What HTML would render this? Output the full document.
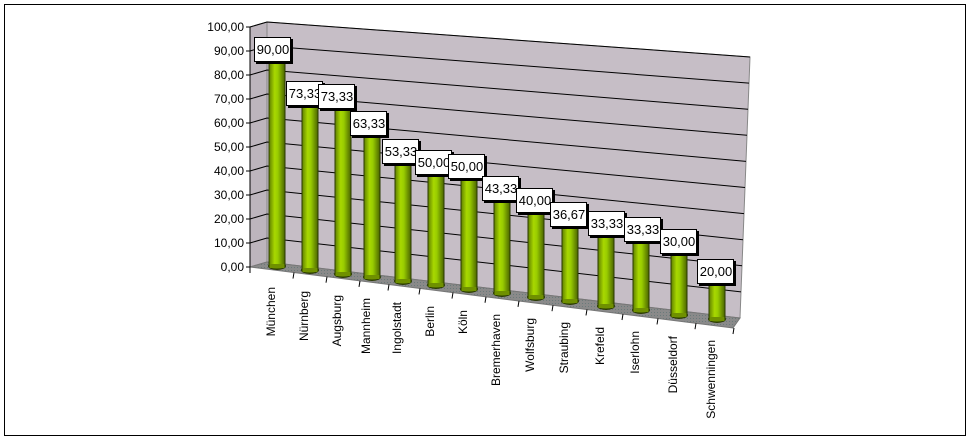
<!DOCTYPE html>
<html><head><meta charset="utf-8"><style>
html,body{margin:0;padding:0;background:#fff;}
svg{display:block;font-family:"Liberation Sans",Arial,sans-serif;}
</style></head><body>
<svg id="s" width="971" height="441" xmlns="http://www.w3.org/2000/svg">
<defs>
<linearGradient id="bargrad" x1="0" x2="1" y1="0" y2="0">
<stop offset="0" stop-color="#5f7f00"/><stop offset="0.35" stop-color="#a8d800"/><stop offset="0.55" stop-color="#99cc00"/><stop offset="1" stop-color="#4a6400"/>
</linearGradient>
<pattern id="dots" width="3" height="3" patternUnits="userSpaceOnUse"><rect width="3" height="3" fill="#8a8a8a"/><rect width="1" height="1" fill="#6a7a7a"/></pattern>
</defs>
<rect x="4.5" y="4.5" width="961" height="431" fill="#fff" stroke="#000"/>
<polygon points="250,27 267,22 267,262 250,267" fill="#bdb5bd" stroke="#888"/>
<polygon points="267,22 750,57 740,318 267,262" fill="#c6bec6" stroke="#888"/>
<polygon points="250,267 267,262 740,318 733,328" fill="url(#dots)" stroke="#777"/>
<g id="grid" stroke="#000" stroke-width="1" fill="none"></g>
<g id="ax" font-size="12" text-anchor="end" fill="#000"></g>
<g id="bars"></g>
<g id="cats" font-size="12" fill="#000"></g>
</svg>
<script>
(function(){
var NS="http://www.w3.org/2000/svg";
function el(p,t,a,txt){var e=document.createElementNS(NS,t);for(var k in a)e.setAttribute(k,a[k]);if(txt!=null)e.textContent=txt;document.getElementById(p).appendChild(e);return e;}
for(var v=0;v<=100;v+=10){
 var yf=267-2.4*v, yb=262-2.4*v, xr=740+0.1*v, yr=318-2.61*v;
 if(v>0)el("grid","polyline",{points:"250,"+yf+" 267,"+yb+" "+xr+","+yr});
 el("grid","line",{x1:246,y1:yf,x2:250,y2:yf});
 el("ax","text",{x:244,y:yf+4},v.toFixed(2).replace(".",","));
}
el("grid","line",{x1:250,y1:27,x2:250,y2:267});
var d=[["München",277,"90,00",254,37],["Nürnberg",310,"73,33",286,81],["Augsburg",343,"73,33",318,84],["Mannheim",372,"63,33",350,111],["Ingolstadt",403,"53,33",382,139],["Berlin",436,"50,00",415,150],["Köln",469,"50,00",448,154],["Bremerhaven",502,"43,33",482,176],["Wolfsburg",536,"40,00",516,188],["Straubing",570,"36,67",550,202],["Krefeld",606,"33,33",588,211],["Iserlohn",641,"33,33",624,217],["Düsseldorf",679,"30,00",660,229],["Schwenningen",717,"20,00",697,259]];
for(var i=0;i<d.length;i++){
 var r=d[i],cx=r[1],bot=Math.round(266+(cx-277)*0.121),btop=r[4]+22,w=16;
 el("bars","ellipse",{cx:cx,cy:bot,rx:8.5,ry:3.5,fill:"#4f6a00",stroke:"#2a3a00"});
 el("bars","rect",{x:cx-8,y:btop,width:w,height:bot-btop,fill:"url(#bargrad)",stroke:"#2a3a00","stroke-width":1});
 el("bars","rect",{x:cx-7.5,y:bot-2,width:15,height:4,fill:"#6f9000"});
 el("bars","rect",{x:r[3]+2,y:r[4]+2,width:37,height:25,fill:"#000"});
 el("bars","rect",{x:r[3]+0.5,y:r[4]+0.5,width:36,height:24,fill:"#fff",stroke:"#000"});
 el("bars","text",{x:r[3]+19,y:r[4]+17,"font-size":"13","text-anchor":"middle",fill:"#000"},r[2]);
 var ty=bot+21, tx=cx-2;
 el("cats","text",{x:0,y:0,"text-anchor":"end",transform:"translate("+tx+","+ty+") rotate(-90)"},r[0]);
 var mx=cx+17, my=267+(mx-250)*0.126;
 el("grid","line",{x1:mx,y1:my,x2:mx-1,y2:my+6});
}
el("grid","line",{x1:250,y1:267,x2:250,y2:273});
})();
</script>
</body></html>
